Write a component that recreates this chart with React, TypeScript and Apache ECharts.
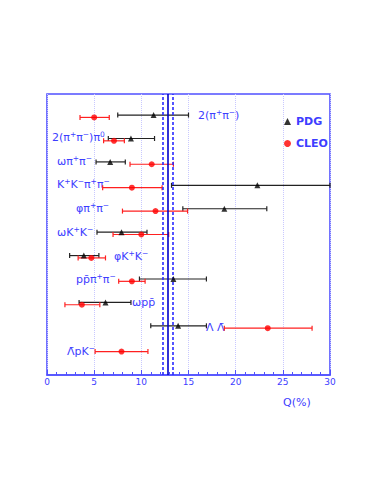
import React, { useEffect, useRef } from "react";
import * as echarts from "echarts";

// Row positions (y) — top row 11, bottom row 1
const pdgY = [11.1, 10.1, 9.1, 8.1, 7.1, 6.1, 5.1, 4.1, 3.1, 2.1];
const pdgQ = [11.3, 8.9, 6.7, 22.3, 18.8, 7.9, 3.9, 13.4, 6.2, 13.9];
const pdgLo = [7.5, 6.5, 5.2, 13.2, 14.4, 5.3, 2.4, 9.8, 3.4, 11.0];
const pdgHi = [15.0, 11.4, 8.3, 30.0, 23.3, 10.6, 5.5, 16.9, 8.9, 16.9];

const cleoY = [11, 10, 9, 8, 7, 6, 5, 4, 3, 2, 1];
const cleoQ = [5.0, 7.1, 11.1, 9.0, 11.5, 10.0, 4.7, 9.0, 3.7, 23.4, 7.9];
const cleoLo = [3.5, 6.0, 8.8, 5.9, 8.0, 7.0, 3.3, 7.6, 1.9, 18.8, 5.1];
const cleoHi = [6.6, 8.2, 13.4, 12.2, 14.9, 12.9, 6.2, 10.4, 5.6, 28.1, 10.7];

const channelLabels = [
  "2(π⁺π⁻)",
  "2(π⁺π⁻)π⁰",
  "ωπ⁺π⁻",
  "K⁺K⁻π⁺π⁻",
  "φπ⁺π⁻",
  "ωK⁺K⁻",
  "φK⁺K⁻",
  "pp̄π⁺π⁻",
  "ωpp̄",
  "Λ Λ̄",
  "Λ̄pK⁻",
];

const meanQ = 12.8;
const meanErr = 0.5;
const xTicks = [0, 5, 10, 15, 20, 25, 30];

// label placement (pixels)
const labelPos: [number, number][] = [
  [198, 115],
  [52, 137],
  [57, 161],
  [57, 184],
  [76, 208],
  [57, 232],
  [114, 256],
  [76, 279],
  [132, 302],
  [206, 327],
  [67, 351],
];

const BLUE = "#3d3dff";

function toRich(t: string) {
  return t
    .replace(/⁺/g, "{s|+}")
    .replace(/⁻/g, "{s|−}")
    .replace(/⁰/g, "{s|0}");
}

function makeErrRender(color: string) {
  return (params: any, api: any) => {
    const lo = api.coord([api.value(0), api.value(2)]);
    const hi = api.coord([api.value(1), api.value(2)]);
    const h = 2.5;
    const style = { stroke: color, lineWidth: 1.2 };
    return {
      type: "group",
      children: [
        { type: "line", shape: { x1: lo[0], y1: lo[1], x2: hi[0], y2: hi[1] }, style },
        { type: "line", shape: { x1: lo[0], y1: lo[1] - h, x2: lo[0], y2: lo[1] + h }, style },
        { type: "line", shape: { x1: hi[0], y1: hi[1] - h, x2: hi[0], y2: hi[1] + h }, style },
      ],
    };
  };
}

export default function App() {
  const ref = useRef<HTMLDivElement>(null);
  useEffect(() => {
    if (!ref.current) return;
    const chart = echarts.init(ref.current, undefined, { renderer: "svg" });
    const font = "DejaVu Sans";
    const option: any = {
      animation: false,
      backgroundColor: "#ffffff",
      grid: {
        left: 47,
        right: 58,
        top: 94,
        bottom: 127,
        show: true,
        borderColor: "#5050ff",
        borderWidth: 1.6,
        backgroundColor: "transparent",
      },
      xAxis: {
        type: "value",
        min: 0,
        max: 30,
        interval: 5,
        axisLine: { show: true, lineStyle: { color: "#5050ff", width: 1.6 } },
        axisTick: { show: true, inside: true, length: 5, lineStyle: { color: "#5050ff" } },
        minorTick: { show: true, splitNumber: 5, length: 3, lineStyle: { color: "#5050ff" } },
        axisLabel: {
          color: BLUE,
          fontSize: 9,
          fontFamily: font,
          margin: 2,
          customValues: xTicks,
        },
        splitLine: { show: true, lineStyle: { color: "#c8c8ff", type: "dotted", width: 1 } },
      },
      yAxis: {
        type: "value",
        min: 0,
        max: 12,
        show: false,
        splitLine: { show: false },
      },
      legend: {
        data: ["PDG", "CLEO"],
        orient: "vertical",
        left: 279,
        top: 111,
        itemWidth: 7,
        itemHeight: 7,
        itemGap: 11,
        textStyle: { color: BLUE, fontSize: 11, fontFamily: font, fontWeight: "bold" },
      },
      series: [
        {
          name: "PDG error",
          type: "custom",
          renderItem: makeErrRender("#222222"),
          encode: { x: [0, 1], y: 2 },
          data: pdgLo.map((lo, i) => [lo, pdgHi[i], pdgY[i]]),
          z: 3,
        },
        {
          name: "CLEO error",
          type: "custom",
          renderItem: makeErrRender("#ff2020"),
          encode: { x: [0, 1], y: 2 },
          data: cleoLo.map((lo, i) => [lo, cleoHi[i], cleoY[i]]),
          z: 3,
        },
        {
          name: "PDG",
          type: "scatter",
          symbol: "triangle",
          symbolSize: 6,
          itemStyle: { color: "#000000" },
          data: pdgQ.map((q, i) => [q, pdgY[i]]),
          z: 5,
        },
        {
          name: "CLEO",
          type: "scatter",
          symbol: "circle",
          symbolSize: 6,
          itemStyle: { color: "#ff0000" },
          data: cleoQ.map((q, i) => [q, cleoY[i]]),
          z: 5,
          markLine: {
            silent: true,
            symbol: "none",
            label: { show: false },
            data: [
              { xAxis: meanQ - meanErr, lineStyle: { color: "#2a2aff", width: 1.6, type: [3, 2] } },
              { xAxis: meanQ, lineStyle: { color: "#0000c8", width: 1.6, type: "solid" } },
              { xAxis: meanQ + meanErr, lineStyle: { color: "#2a2aff", width: 1.6, type: [3, 2] } },
            ],
          },
        },
      ],
      graphic: [
        ...channelLabels.map((t, i) => ({
          type: "text",
          x: labelPos[i][0],
          y: labelPos[i][1],
          silent: true,
          style: {
            text: toRich(t),
            fill: BLUE,
            fontSize: 11,
            fontFamily: font,
            verticalAlign: "middle",
            align: "left",
            rich: {
              s: {
                fontSize: 7.5,
                fontFamily: font,
                fill: BLUE,
                verticalAlign: "top",
                lineHeight: 13,
              },
            },
          },
        })),
        {
          type: "text",
          x: 283,
          y: 402,
          style: {
            text: "Q(%)",
            fill: BLUE,
            fontSize: 11,
            fontFamily: font,
            verticalAlign: "middle",
          },
        },
      ],
    };
    chart.setOption(option);
    return () => chart.dispose();
  }, []);
  return (
    <div
      ref={ref}
      style={{ position: "fixed", left: 0, top: 0, width: 388, height: 502 }}
    />
  );
}
